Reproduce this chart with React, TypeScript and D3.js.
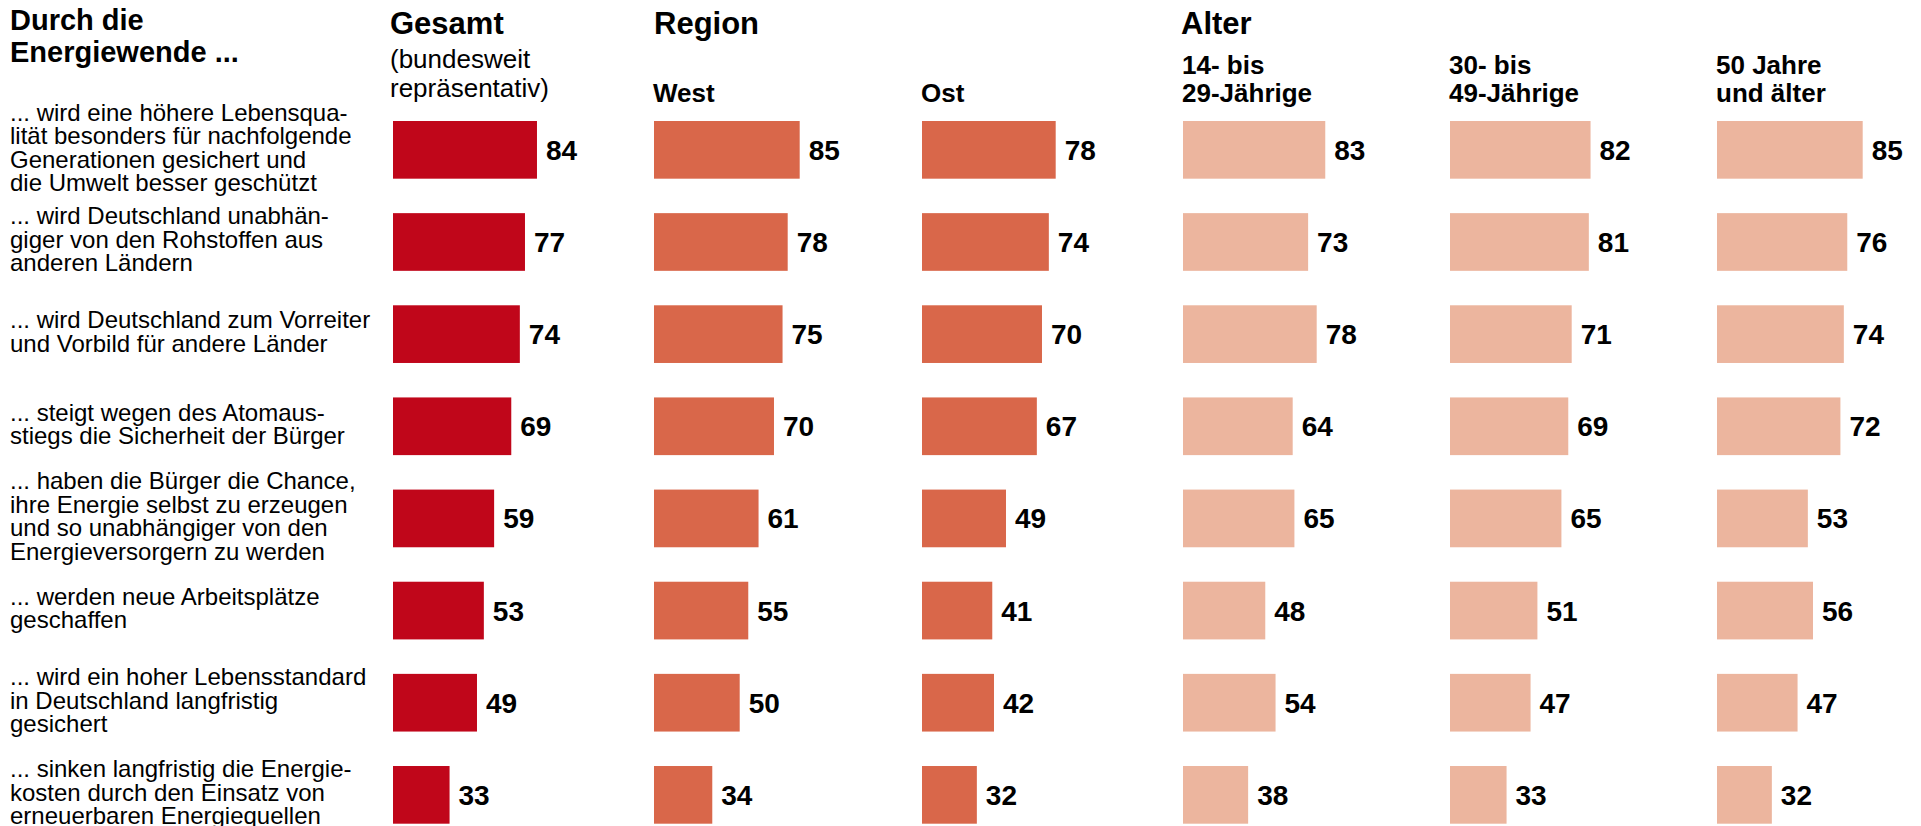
import React from "react";
import * as d3 from "d3";

const statements: string[][] = [
  ["... wird eine höhere Lebensqua-", "lität besonders für nachfolgende", "Generationen gesichert und", "die Umwelt besser geschützt"],
  ["... wird Deutschland unabhän-", "giger von den Rohstoffen aus", "anderen Ländern"],
  ["... wird Deutschland zum Vorreiter", "und Vorbild für andere Länder"],
  ["... steigt wegen des Atomaus-", "stiegs die Sicherheit der Bürger"],
  ["... haben die Bürger die Chance,", "ihre Energie selbst zu erzeugen", "und so unabhängiger von den", "Energieversorgern zu werden"],
  ["... werden neue Arbeitsplätze", "geschaffen"],
  ["... wird ein hoher Lebensstandard", "in Deutschland langfristig", "gesichert"],
  ["... sinken langfristig die Energie-", "kosten durch den Einsatz von", "erneuerbaren Energiequellen"],
];

const gesamt = [84, 77, 74, 69, 59, 53, 49, 33];
const west = [85, 78, 75, 70, 61, 55, 50, 34];
const ost = [78, 74, 70, 67, 49, 41, 42, 32];
const age14to29 = [83, 73, 78, 64, 65, 48, 54, 38];
const age30to49 = [82, 81, 71, 69, 65, 51, 47, 33];
const age50plus = [85, 76, 74, 72, 53, 56, 47, 32];

const titleLines = ["Durch die", "Energiewende ..."];
const groupTitles = ["Gesamt", "Region", "Alter"];
const gesamtSub = ["(bundesweit", "repräsentativ)"];
const columnLabels: string[][] = [[], ["West"], ["Ost"], ["14- bis", "29-Jährige"], ["30- bis", "49-Jährige"], ["50 Jahre", "und älter"]];

const seriesList = [gesamt, west, ost, age14to29, age30to49, age50plus];
const colors = ["#C0061A", "#D9674A", "#D9674A", "#ECB59E", "#ECB59E", "#ECB59E"];

// layout
const W = 1921;
const H = 826;
const colX = [393, 654, 922, 1183, 1450, 1717];
const FONT = "'Liberation Sans', Arial, Helvetica, sans-serif";

export default function App() {
  const y = d3
    .scaleBand<number>()
    .domain(d3.range(statements.length))
    .range([121, 823.7])
    .paddingInner(0.374)
    .paddingOuter(0)
    .align(0);
  const x = d3.scaleLinear().domain([0, 100]).range([0, 171.4]);
  const bw = y.bandwidth();
  const lineH = 23.5;

  return (
    <svg
      width={W}
      height={H}
      style={{ position: "absolute", left: 0, top: 0, display: "block", background: "#fff" }}
      fontFamily={FONT}
    >
      {/* title */}
      {titleLines.map((t, i) => (
        <text key={t} x={10} y={30 + i * 32} fontSize={29} fontWeight="bold" fill="#000">
          {t}
        </text>
      ))}
      {/* group titles */}
      <text x={colX[0] - 3} y={34} fontSize={31} fontWeight="bold">{groupTitles[0]}</text>
      <text x={colX[1]} y={34} fontSize={31} fontWeight="bold">{groupTitles[1]}</text>
      <text x={colX[3] - 2} y={34} fontSize={31} fontWeight="bold">{groupTitles[2]}</text>
      {gesamtSub.map((t, i) => (
        <text key={t} x={colX[0] - 3} y={68 + i * 29} fontSize={26}>
          {t}
        </text>
      ))}
      {columnLabels.map((lines, c) =>
        lines.map((t, i) => (
          <text
            key={c + "-" + i}
            x={colX[c] - 1}
            y={lines.length === 1 ? 102 : 74 + i * 28}
            fontSize={26}
            fontWeight="bold"
          >
            {t}
          </text>
        ))
      )}
      {/* statements */}
      {statements.map((lines, r) => {
        const cy = (y(r) as number) + bw / 2;
        return (
          <text key={"s" + r} fontSize={24} fill="#000">
            {lines.map((t, i) => (
              <tspan key={i} x={10} y={cy + 6 + (i - (lines.length - 1) / 2) * lineH}>
                {t}
              </tspan>
            ))}
          </text>
        );
      })}
      {/* bars */}
      {seriesList.map((vals, c) => (
        <g key={"c" + c} transform={`translate(${colX[c]},0)`}>
          {vals.map((v, r) => (
            <g key={r}>
              <rect x={0} y={y(r)} width={x(v)} height={bw} fill={colors[c]} />
              <text
                x={x(v) + 9}
                y={(y(r) as number) + bw / 2 + 10}
                fontSize={28}
                fontWeight="bold"
                fill="#000"
              >
                {v}
              </text>
            </g>
          ))}
        </g>
      ))}
    </svg>
  );
}
